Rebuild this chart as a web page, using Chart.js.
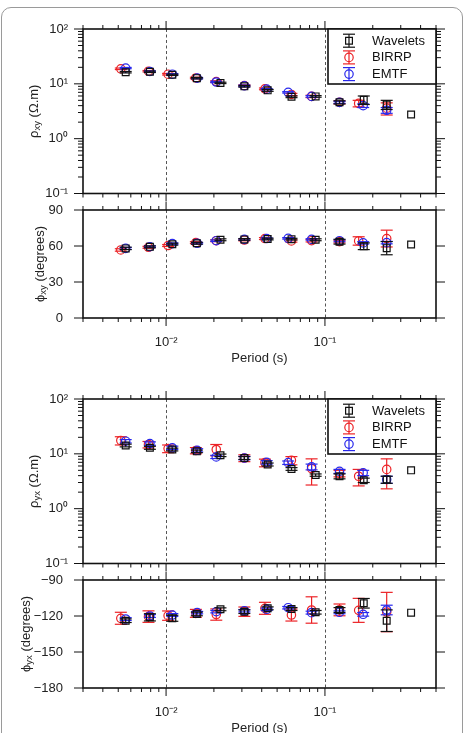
<!DOCTYPE html>
<html>
<head>
<meta charset="utf-8">
<script src="https://cdn.jsdelivr.net/npm/chart.js@4.4.0/dist/chart.umd.min.js"></script>
<style>
  html, body { margin: 0; padding: 0; background: #fff; width: 465px; height: 733px; overflow: hidden; }
  .frame { position: absolute; left: 1px; top: 7px; width: 460px; height: 760px; border: 1px solid #9a9a9a; border-radius: 10px; }
  canvas { position: absolute; left: 0; }
</style>
</head>
<body>
<div class="frame"></div>
<canvas id="rhoXy" width="465" height="220" style="top:0px"></canvas>
<canvas id="phiXy" width="465" height="190" style="top:180px"></canvas>
<canvas id="rhoYx" width="465" height="220" style="top:370px"></canvas>
<canvas id="phiYx" width="465" height="190" style="top:550px"></canvas>
<script>
// series names
const names = ['Wavelets', 'BIRRP', 'EMTF'];

// periods (s) for each method
const periodWavelets = [0.00557, 0.00791, 0.01095, 0.01562, 0.0220, 0.0311, 0.0436, 0.0616, 0.0874, 0.1235, 0.1755, 0.2447, 0.3485];
const periodBirrp = [0.00519, 0.00775, 0.0103, 0.0154, 0.0207, 0.0311, 0.0419, 0.0615, 0.0824, 0.1235, 0.163, 0.2447];
const periodEmtf = [0.00557, 0.00791, 0.01095, 0.0157, 0.0207, 0.0311, 0.0430, 0.0587, 0.0824, 0.1235, 0.174, 0.2447];

// vertical guide lines
const guidePeriods = [0.01, 0.1];

// rho xy (ohm.m)
const rhoXyWavelets = [16.3, 16.6, 14.6, 12.7, 10.4, 9.0, 7.6, 5.8, 5.9, 4.6, 5.1, 4.2, 2.75];
const rhoXyWaveletsErr = [0.5, 0.5, 0.4, 0.4, 0.3, 0.3, 0.3, 0.2, 0.2, 0.3, 0.9, 0.8, 0];
const rhoXyBirrp = [18.8, 17.0, 15.0, 12.8, 11.0, 9.3, 8.1, 6.4, 5.9, 4.6, 4.4, 3.6];
const rhoXyBirrpErr = [0.6, 0.5, 0.5, 0.4, 0.4, 0.3, 0.3, 0.3, 0.3, 0.3, 0.6, 0.9];
const rhoXyEmtf = [19.4, 16.8, 15.0, 12.7, 10.8, 9.2, 8.0, 7.0, 5.9, 4.6, 4.0, 3.3];
const rhoXyEmtfErr = [0.5, 0.4, 0.4, 0.3, 0.3, 0.3, 0.2, 0.2, 0.2, 0.2, 0.3, 0.4];

// phi xy (degrees)
const phiXyWavelets = [58.0, 59.3, 61.5, 62.3, 65.2, 65.5, 65.8, 65.7, 65.2, 63.6, 59.8, 58.2, 61.2];
const phiXyWaveletsErr = [1.0, 0.8, 0.8, 0.8, 0.8, 0.7, 0.7, 0.7, 0.8, 2.0, 2.8, 5.5, 0];
const phiXyBirrp = [56.7, 58.9, 60.4, 62.8, 64.4, 65.0, 66.2, 64.2, 64.4, 63.6, 64.2, 66.2];
const phiXyBirrpErr = [1.0, 0.8, 0.8, 0.8, 0.8, 0.7, 0.8, 1.0, 1.0, 1.0, 3.5, 7.0];
const phiXyEmtf = [58.0, 59.4, 62.0, 62.3, 64.4, 65.5, 66.2, 66.4, 65.5, 64.4, 62.6, 62.8];
const phiXyEmtfErr = [0.8, 0.6, 0.6, 0.6, 0.6, 0.6, 0.6, 0.6, 0.6, 0.8, 1.0, 1.0];

// rho yx (ohm.m)
const rhoYxWavelets = [14.2, 12.9, 12.0, 11.1, 9.4, 8.4, 6.4, 5.3, 4.1, 3.9, 3.3, 3.4, 5.0];
const rhoYxWaveletsErr = [0.8, 0.8, 0.7, 0.6, 0.5, 0.5, 0.4, 0.3, 0.2, 0.4, 0.3, 0.5, 0];
const rhoYxBirrp = [17.5, 14.8, 12.5, 11.5, 12.0, 8.4, 6.9, 7.6, 5.4, 4.4, 3.9, 5.2];
const rhoYxBirrpErr = [3.0, 2.0, 2.0, 1.5, 2.8, 1.2, 1.1, 1.3, 2.7, 0.6, 1.3, 2.9];
const rhoYxEmtf = [17.0, 15.4, 12.9, 11.6, 8.8, 8.4, 7.0, 6.9, 5.8, 4.8, 4.5, 3.4];
const rhoYxEmtfErr = [1.2, 1.1, 0.9, 0.8, 0.6, 0.6, 0.5, 0.5, 0.7, 0.4, 0.5, 0.5];

// phi yx (degrees)
const phiYxWavelets = [-123.9, -121.1, -121.9, -118.3, -114.4, -116.4, -113.6, -114.2, -116.9, -115.0, -109.4, -123.9, -117.2];
const phiYxWaveletsErr = [1.5, 3.0, 2.5, 1.5, 1.2, 1.5, 1.2, 1.2, 1.5, 2.0, 4.0, 9.0, 0];
const phiYxBirrp = [-121.9, -120.5, -119.7, -117.8, -118.8, -116.4, -113.6, -119.2, -115.0, -114.9, -115.3, -116.7];
const phiYxBirrpErr = [5.0, 4.8, 3.9, 3.3, 4.7, 3.9, 5.0, 5.0, 11.0, 4.9, 10.0, 16.4];
const phiYxEmtf = [-122.5, -120.0, -119.2, -117.2, -116.4, -115.6, -114.4, -113.1, -117.2, -116.9, -118.6, -115.0];
const phiYxEmtfErr = [1.2, 1.2, 1.2, 1.0, 1.0, 1.0, 1.0, 1.0, 1.2, 1.2, 1.5, 4.0];

const FONT = '"Liberation Sans", Arial, Helvetica, sans-serif';
Chart.defaults.font.family = FONT;
Chart.defaults.font.size = 13;
Chart.defaults.color = '#222';

const BLACK = '#111', RED = 'rgb(236,34,38)', BLUE = 'rgb(40,40,236)';

const SUP = { '-': '\u207B', '0': '\u2070', '1': '\u00B9', '2': '\u00B2', '3': '\u00B3' };
function isDecade(v) { const e = Math.log10(v); return Math.abs(e - Math.round(e)) < 1e-6; }
function isWhole(v) {
  const m = v / Math.pow(10, Math.floor(Math.log10(v) + 1e-9));
  return Math.abs(m - Math.round(m)) < 1e-6;
}
function powLabel(v) {
  if (!isDecade(v)) return '';
  return '10' + String(Math.round(Math.log10(v))).split('').map(c => SUP[c]).join('');
}

function series(i, periods, values, errors, color, style, order) {
  return {
    label: names[i],
    data: periods.map((p, k) => ({ x: p, y: values[k] })),
    errors: errors,
    borderColor: color,
    backgroundColor: 'rgba(0,0,0,0)',
    pointStyle: style,
    pointRadius: style === 'rect' ? 4.8 : 4.2,
    pointBorderWidth: 1.2,
    pointHoverRadius: 0,
    showLine: false,
    order: order
  };
}

function line(ctx, x1, y1, x2, y2) { ctx.beginPath(); ctx.moveTo(x1, y1); ctx.lineTo(x2, y2); ctx.stroke(); }

function marker(ctx, style, x, y, r) {
  ctx.beginPath();
  if (style === 'rect') { const s = r * Math.SQRT1_2; ctx.rect(x - s, y - s, 2 * s, 2 * s); }
  else ctx.arc(x, y, r, 0, Math.PI * 2);
  ctx.stroke();
}

const decor = {
  id: 'decor',
  beforeDatasetsDraw(chart) {
    const { ctx, chartArea: a, scales: { x } } = chart;
    ctx.save();
    ctx.strokeStyle = '#555';
    ctx.lineWidth = 1;
    ctx.setLineDash([3, 2.5]);
    guidePeriods.forEach(p => {
      const px = Math.round(x.getPixelForValue(p)) + 0.5;
      line(ctx, px, a.top, px, a.bottom);
    });
    ctx.restore();
  },
  beforeDatasetDraw(chart, args, opts) {
    const ds = chart.data.datasets[args.index];
    const { ctx, scales: { y } } = chart;
    ctx.save();
    ctx.strokeStyle = ds.borderColor;
    ctx.lineWidth = 1.2;
    args.meta.data.forEach((pt, k) => {
      const e = ds.errors[k];
      if (!e) return;
      const v = ds.data[k].y;
      const lo = opts.logY ? Math.max(v - e, y.min * 0.5) : v - e;
      const y1 = y.getPixelForValue(v + e);
      const y2 = y.getPixelForValue(lo);
      line(ctx, pt.x, y1, pt.x, y2);
      line(ctx, pt.x - 6, y1, pt.x + 6, y1);
      line(ctx, pt.x - 6, y2, pt.x + 6, y2);
    });
    ctx.restore();
  },
  afterDraw(chart, args, opts) {
    const { ctx, chartArea: a, scales: { x, y } } = chart;
    ctx.save();
    ctx.strokeStyle = BLACK;
    ctx.lineWidth = 1;
    x.ticks.forEach(t => {
      if (!isWhole(t.value)) return;
      const px = x.getPixelForValue(t.value);
      const len = isDecade(t.value) ? 8 : 4;
      line(ctx, px, a.bottom, px, a.bottom + len);
      line(ctx, px, a.top, px, a.top - len);
    });
    y.ticks.forEach(t => {
      let len = 9;
      if (opts.logY) {
        if (!isWhole(t.value)) return;
        len = isDecade(t.value) ? 9 : 5;
      }
      const py = y.getPixelForValue(t.value);
      line(ctx, a.left, py, a.left - len, py);
      line(ctx, a.right, py, a.right + len, py);
    });
    ctx.lineWidth = 1.6;
    ctx.strokeRect(a.left, a.top, a.right - a.left, a.bottom - a.top);

    if (opts.legend) {
      const w = 108, h = 55, x0 = a.right - w, y0 = a.top;
      ctx.fillStyle = '#fff';
      ctx.fillRect(x0, y0, w, h);
      ctx.strokeRect(x0, y0, w, h);
      ctx.font = '13px ' + FONT;
      ctx.textBaseline = 'middle';
      ctx.textAlign = 'left';
      chart.data.datasets.forEach((ds, i) => {
        const cy = y0 + 11.7 + i * 16.7, cx = x0 + 21;
        ctx.strokeStyle = ds.borderColor;
        ctx.lineWidth = 1.2;
        line(ctx, cx, cy - 6.5, cx, cy + 6.5);
        line(ctx, cx - 6, cy - 6.5, cx + 6, cy - 6.5);
        line(ctx, cx - 6, cy + 6.5, cx + 6, cy + 6.5);
        marker(ctx, ds.pointStyle, cx, cy, ds.pointRadius);
        ctx.fillStyle = '#111';
        ctx.fillText(ds.label, x0 + 44, cy + 0.5);
      });
    }

    // rotated y title with subscript
    const parts = opts.title;
    ctx.translate(opts.titleX, (a.top + a.bottom) / 2);
    ctx.rotate(-Math.PI / 2);
    ctx.fillStyle = '#222';
    ctx.textBaseline = 'middle';
    ctx.textAlign = 'left';
    const fonts = [13, 9.5, 13], shifts = [0, 3, 0];
    let total = 0;
    parts.forEach((p, i) => { ctx.font = fonts[i] + 'px ' + FONT; total += ctx.measureText(p).width; });
    let cx = -total / 2;
    parts.forEach((p, i) => {
      ctx.font = fonts[i] + 'px ' + FONT;
      ctx.fillText(p, cx, shifts[i]);
      cx += ctx.measureText(p).width;
    });
    ctx.restore();
  }
};

function panel(id, cfg) {
  const xScale = {
    type: 'logarithmic', min: 0.003, max: 0.5,
    grid: { display: false, drawTicks: false },
    border: { display: false },
    ticks: { autoSkip: false, maxRotation: 0, padding: 17, callback: cfg.xLabels ? powLabel : () => '' },
    title: { display: cfg.xLabels, text: 'Period (s)', padding: { top: 0, bottom: 4 } },
    afterFit: s => { s.height = cfg.xLabels ? 52 : 0; }
  };
  const yScale = cfg.logY ? {
    type: 'logarithmic', min: 0.1, max: 100,
    grid: { display: false, drawTicks: false },
    border: { display: false },
    ticks: { autoSkip: false, padding: 15, callback: powLabel },
    afterFit: s => { s.width = 63; }
  } : {
    type: 'linear', min: cfg.yMin, max: cfg.yMin + 90,
    grid: { display: false, drawTicks: false },
    border: { display: false },
    ticks: { stepSize: 30, padding: 20, callback: v => String(v).replace('-', '\u2212') },
    afterFit: s => { s.width = 63; }
  };
  new Chart(document.getElementById(id), {
    type: 'scatter',
    data: {
      datasets: [
        series(0, periodWavelets, cfg.values[0], cfg.errors[0], BLACK, 'rect', 0),
        series(1, periodBirrp, cfg.values[1], cfg.errors[1], RED, 'circle', 2),
        series(2, periodEmtf, cfg.values[2], cfg.errors[2], BLUE, 'circle', 1)
      ]
    },
    options: {
      responsive: false,
      animation: false,
      events: [],
      layout: { padding: cfg.padding },
      plugins: {
        legend: { display: false },
        tooltip: { enabled: false },
        decor: { logY: cfg.logY, legend: cfg.legend, title: cfg.title, titleX: cfg.titleX }
      },
      scales: { x: xScale, y: yScale }
    },
    plugins: [decor]
  });
}

panel('rhoXy', {
  logY: true, legend: true, xLabels: false, titleX: 34,
  title: ['\u03C1', 'xy', ' (\u03A9.m)'],
  padding: { top: 29, left: 20, right: 29, bottom: 26.5 },
  values: [rhoXyWavelets, rhoXyBirrp, rhoXyEmtf],
  errors: [rhoXyWaveletsErr, rhoXyBirrpErr, rhoXyEmtfErr]
});
panel('phiXy', {
  logY: false, yMin: 0, legend: false, xLabels: true, titleX: 40,
  title: ['\u03D5', 'xy', ' (degrees)'],
  padding: { top: 30, left: 20, right: 29, bottom: 0 },
  values: [phiXyWavelets, phiXyBirrp, phiXyEmtf],
  errors: [phiXyWaveletsErr, phiXyBirrpErr, phiXyEmtfErr]
});
panel('rhoYx', {
  logY: true, legend: true, xLabels: false, titleX: 34,
  title: ['\u03C1', 'yx', ' (\u03A9.m)'],
  padding: { top: 29, left: 20, right: 29, bottom: 26.5 },
  values: [rhoYxWavelets, rhoYxBirrp, rhoYxEmtf],
  errors: [rhoYxWaveletsErr, rhoYxBirrpErr, rhoYxEmtfErr]
});
panel('phiYx', {
  logY: false, yMin: -180, legend: false, xLabels: true, titleX: 26,
  title: ['\u03D5', 'yx', ' (degrees)'],
  padding: { top: 30, left: 20, right: 29, bottom: 0 },
  values: [phiYxWavelets, phiYxBirrp, phiYxEmtf],
  errors: [phiYxWaveletsErr, phiYxBirrpErr, phiYxEmtfErr]
});
</script>
</body>
</html>
